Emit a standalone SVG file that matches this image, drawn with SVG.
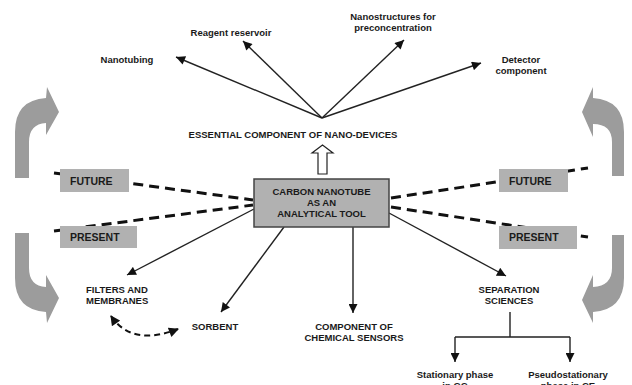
<svg xmlns="http://www.w3.org/2000/svg" width="632" height="385" viewBox="0 0 632 385">
<defs>
<style>
text{font-family:"Liberation Sans",Arial,sans-serif;font-weight:bold;fill:#1a1a1a}
.s{font-size:9.5px}
.m{font-size:9.5px}
.b{font-size:10.5px}
.ln{stroke:#222;stroke-width:1.4;fill:none}
.dash{stroke:#111;stroke-width:3;stroke-dasharray:10 6;fill:none}
.box{fill:#b1b1b1}
.big{fill:#9c9c9c}
</style>
<marker id="ah" viewBox="0 0 10 10" refX="10" refY="5" markerWidth="10" markerHeight="9" markerUnits="userSpaceOnUse" orient="auto">
<path d="M0,0 L10,5 L0,10 Z" fill="#111"/>
</marker>
<marker id="ah2" viewBox="0 0 10 10" refX="9" refY="5" markerWidth="11" markerHeight="10" markerUnits="userSpaceOnUse" orient="auto-start-reverse">
<path d="M0,0 L10,5 L0,10 Z" fill="#111"/>
</marker>
</defs>

<g id="cycle-arrows">
<path class="big" d="M15,178 L15,132 Q15,100 46,98 L47,87 L59,112 L46,135 L46,123 Q29,124 29,142 L29,178 Z"/>
<path class="big" d="M15,233 L15,278 Q15,310 46,312 L47,323 L59,298 L46,275 L46,287 Q29,286 29,268 L29,233 Z"/>
<path class="big" d="M624,176 L624,132 Q624,100 593,98 L593,87 L582,112 L593,137 L593,124 Q612,124 612,142 L612,176 Z"/>
<path class="big" d="M624,235 L624,278 Q624,310 593,312 L593,323 L582,300 L593,275 L593,287 Q612,286 612,268 L612,235 Z"/>
</g>

<g id="connectors">
<line class="ln" x1="322" y1="118" x2="176" y2="57" marker-end="url(#ah)"/>
<line class="ln" x1="322" y1="118" x2="243" y2="41" marker-end="url(#ah)"/>
<line class="ln" x1="322" y1="118" x2="404" y2="40" marker-end="url(#ah)"/>
<line class="ln" x1="322" y1="118" x2="481" y2="63" marker-end="url(#ah)"/>
<line class="dash" x1="54" y1="173" x2="253" y2="200"/>
<line class="dash" x1="54" y1="231" x2="253" y2="205"/>
<line class="dash" x1="391" y1="198" x2="588" y2="168"/>
<line class="dash" x1="391" y1="207" x2="588" y2="237"/>
<line class="ln" x1="254" y1="209" x2="127" y2="275" marker-end="url(#ah)"/>
<line class="ln" x1="284" y1="227" x2="221" y2="312" marker-end="url(#ah)"/>
<line class="ln" x1="353" y1="227" x2="353" y2="313" marker-end="url(#ah)"/>
<line class="ln" x1="389" y1="213" x2="506" y2="276" marker-end="url(#ah)"/>
<path class="ln" d="M510,312 L510,337 M455,337 L570,337"/>
<line class="ln" x1="455" y1="337" x2="455" y2="362" marker-end="url(#ah)"/>
<line class="ln" x1="570" y1="337" x2="570" y2="362" marker-end="url(#ah)"/>
<path d="M111,316 Q132,347 178,329" stroke="#111" stroke-width="2" stroke-dasharray="6 4" fill="none" marker-start="url(#ah2)" marker-end="url(#ah2)"/>
<path d="M318,174 L318,153 L312,153 L322.5,145 L333,153 L327,153 L327,174 Z" fill="#fff" stroke="#222" stroke-width="1.2"/>
</g>

<g id="future-left"><rect class="box" x="60" y="169" width="69" height="23"/><text class="b" x="70" y="185">FUTURE</text></g>
<g id="present-left"><rect class="box" x="60" y="226" width="77" height="22"/><text class="b" x="70" y="241">PRESENT</text></g>
<g id="future-right"><rect class="box" x="499" y="169" width="69" height="23"/><text class="b" x="509" y="185">FUTURE</text></g>
<g id="present-right"><rect class="box" x="499" y="226" width="78" height="23"/><text class="b" x="509" y="241">PRESENT</text></g>

<g id="center">
<rect x="254" y="179" width="135" height="48" fill="#b1b1b1" stroke="#444" stroke-width="1.5"/>
<text class="m" x="321.5" y="195" text-anchor="middle">CARBON NANOTUBE</text>
<text class="m" x="321.5" y="206" text-anchor="middle">AS AN</text>
<text class="m" x="321.5" y="217" text-anchor="middle">ANALYTICAL TOOL</text>
</g>

<g id="essential"><text class="s" x="293" y="138" text-anchor="middle">ESSENTIAL COMPONENT OF NANO-DEVICES</text></g>
<g id="nanotubing"><text class="s" x="127" y="63" text-anchor="middle">Nanotubing</text></g>
<g id="reagent"><text class="s" x="231" y="36" text-anchor="middle">Reagent reservoir</text></g>
<g id="nanostructures"><text class="s" x="393" y="20" text-anchor="middle">Nanostructures for</text><text class="s" x="393" y="31" text-anchor="middle">preconcentration</text></g>
<g id="detector"><text class="s" x="521" y="63" text-anchor="middle">Detector</text><text class="s" x="521" y="74" text-anchor="middle">component</text></g>
<g id="filters"><text class="s" x="86" y="293">FILTERS AND</text><text class="s" x="86" y="304">MEMBRANES</text></g>
<g id="sorbent"><text class="s" x="215" y="330" text-anchor="middle">SORBENT</text></g>
<g id="sensors"><text class="s" x="354" y="330" text-anchor="middle">COMPONENT OF</text><text class="s" x="354" y="341" text-anchor="middle">CHEMICAL SENSORS</text></g>
<g id="separation"><text class="s" x="509" y="293" text-anchor="middle">SEPARATION</text><text class="s" x="509" y="304" text-anchor="middle">SCIENCES</text></g>
<g id="stationary"><text class="s" x="455" y="378" text-anchor="middle">Stationary phase</text><text class="s" x="455" y="389" text-anchor="middle">in GC</text></g>
<g id="pseudo"><text class="s" x="568" y="378" text-anchor="middle">Pseudostationary</text><text class="s" x="568" y="389" text-anchor="middle">phase in CE</text></g>
</svg>
